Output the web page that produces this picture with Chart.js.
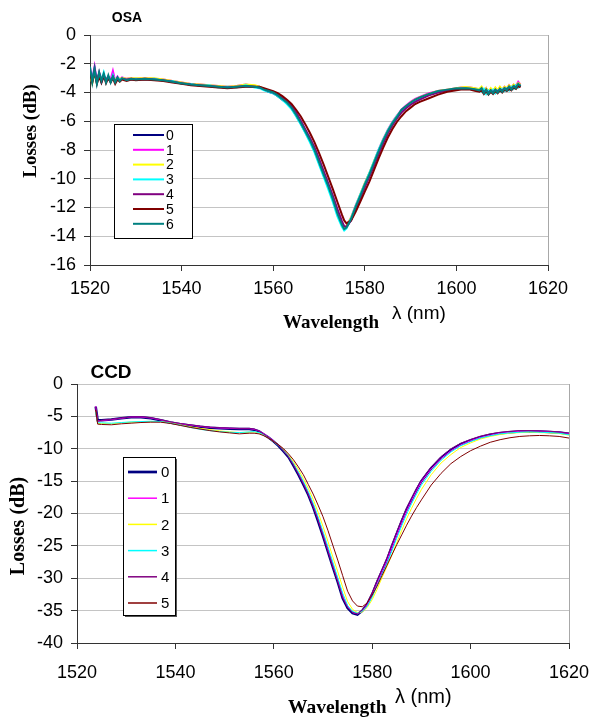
<!DOCTYPE html>
<html>
<head>
<meta charset="utf-8">
<script src="https://cdn.jsdelivr.net/npm/chart.js@4.4.1/dist/chart.umd.min.js"></script>
<style>
body { margin: 0; background: #fff; }
#wrap { position: relative; width: 590px; height: 720px; }
canvas { position: absolute; left: 0; }
</style>
</head>
<body>
<div id="wrap">
  <canvas id="osa-chart" width="590" height="360" style="top:0"></canvas>
  <canvas id="ccd-chart" width="590" height="360" style="top:360px"></canvas>
</div>
<script>
// ---- data ----
const seriesLabels = ['0', '1', '2', '3', '4', '5', '6'];
const seriesColors = ['#000080', '#ff00ff', '#ffff00', '#00ffff', '#800080', '#800000', '#008080'];

// OSA: wavelength (nm)
const osaX = [1520, 1520.5, 1521, 1521.5, 1522, 1522.5, 1523, 1523.5, 1524, 1524.5, 1525, 1525.5, 1526, 1526.5, 1527,
    1528, 1529, 1530,
    1532, 1534, 1536, 1538, 1540, 1542, 1544, 1546, 1548, 1550, 1552, 1554, 1556,
    1557, 1558, 1559, 1560, 1561, 1562, 1563, 1564, 1565, 1566, 1567, 1568, 1569, 1570, 1571, 1572, 1573, 1574, 1575,
    1575.5,
    1576, 1577, 1578, 1579, 1580, 1581, 1582, 1583, 1584, 1585, 1586, 1587, 1588, 1589, 1590, 1591, 1592,
    1594, 1596, 1598, 1600,
    1601, 1602, 1603, 1604,
    1605, 1605.5, 1606, 1606.5, 1607, 1607.5, 1608, 1608.5, 1609, 1609.5, 1610, 1610.5, 1611, 1611.5, 1612, 1612.5, 1613, 1613.5, 1614];

// OSA losses (dB), one array per run
const osa0 = [-2.6, -3.0, -2.5, -3.2, -2.7, -3.3, -2.9, -3.1, -3.0, -3.25, -2.95, -3.2, -3.05, -3.15, -3.05,
    -3.1, -3.1, -3.1,
    -3.1, -3.1, -3.15, -3.25, -3.35, -3.45, -3.5, -3.55, -3.6, -3.65, -3.6, -3.55, -3.6,
    -3.65, -3.8, -3.95, -4.05, -4.25, -4.5, -4.75, -5.1, -5.6, -6.15, -6.75, -7.35, -8.05, -8.9, -9.75, -10.55, -11.45, -12.4, -13.1,
    -13.4,
    -13.35, -12.85, -12.0, -11.25, -10.45, -9.75, -8.95, -8.15, -7.4, -6.75, -6.2, -5.75, -5.3, -5.0, -4.75, -4.55, -4.4,
    -4.15, -3.95, -3.85, -3.75,
    -3.72, -3.72, -3.75, -3.8,
    -3.9, -3.8, -4.0, -3.85, -4.05, -3.9, -4.0, -3.85, -3.95, -3.8, -3.9, -3.75, -3.8, -3.65, -3.75, -3.6, -3.65, -3.5, -3.6];
const osa1 = [-2.3, -3.1, -2.2, -3.2, -2.7, -3.0, -2.8, -3.1, -2.9, -3.1, -2.5, -3.2, -2.9, -3.1, -2.95,
    -3.05, -3.0, -3.05,
    -3.0, -3.05, -3.1, -3.2, -3.3, -3.4, -3.45, -3.5, -3.55, -3.6, -3.55, -3.45, -3.55,
    -3.6, -3.75, -3.85, -3.95, -4.15, -4.4, -4.65, -5.0, -5.5, -6.05, -6.65, -7.25, -7.95, -8.8, -9.65, -10.45, -11.35, -12.3, -13.1,
    -13.4,
    -13.3, -12.7, -11.85, -11.1, -10.3, -9.6, -8.8, -8.0, -7.25, -6.6, -6.05, -5.6, -5.2, -4.9, -4.65, -4.45, -4.3,
    -4.05, -3.9, -3.8, -3.7,
    -3.65, -3.65, -3.65, -3.7,
    -3.8, -3.65, -3.95, -3.7, -4.0, -3.75, -3.95, -3.7, -3.9, -3.65, -3.85, -3.6, -3.75, -3.5, -3.7, -3.45, -3.55, -3.25, -3.45];
const osa2 = [-2.8, -3.35, -2.6, -3.2, -2.8, -3.0, -2.9, -3.1, -3.0, -3.1, -2.9, -3.1, -3.0, -3.05, -3.0,
    -3.05, -3.0, -3.0,
    -3.0, -3.0, -3.1, -3.2, -3.3, -3.4, -3.45, -3.5, -3.55, -3.6, -3.55, -3.45, -3.5,
    -3.6, -3.75, -3.9, -4.0, -4.2, -4.45, -4.7, -5.05, -5.5, -6.1, -6.7, -7.3, -8.0, -8.85, -9.7, -10.5, -11.4, -12.35, -13.1,
    -13.4,
    -13.3, -12.7, -11.9, -11.1, -10.3, -9.6, -8.8, -8.05, -7.3, -6.65, -6.1, -5.65, -5.25, -4.95, -4.7, -4.5, -4.35,
    -4.1, -3.9, -3.8, -3.7,
    -3.65, -3.62, -3.65, -3.7,
    -3.75, -3.6, -3.9, -3.7, -3.95, -3.7, -3.9, -3.65, -3.85, -3.6, -3.8, -3.6, -3.7, -3.5, -3.65, -3.45, -3.55, -3.35, -3.45];
const osa3 = [-2.5, -3.1, -2.3, -3.3, -2.8, -3.1, -2.6, -3.2, -2.9, -3.2, -2.8, -3.2, -3.0, -3.1, -3.05,
    -3.1, -3.1, -3.05,
    -3.1, -3.05, -3.2, -3.2, -3.4, -3.4, -3.55, -3.5, -3.65, -3.6, -3.65, -3.5, -3.65,
    -3.7, -3.85, -3.95, -4.05, -4.25, -4.5, -4.8, -5.15, -5.65, -6.2, -6.8, -7.45, -8.15, -9.0, -9.85, -10.7, -11.6, -12.6, -13.35,
    -13.6,
    -13.45, -12.75, -11.9, -11.1, -10.35, -9.6, -8.8, -8.0, -7.3, -6.65, -6.1, -5.65, -5.25, -5.0, -4.75, -4.55, -4.4,
    -4.15, -3.95, -3.85, -3.75,
    -3.7, -3.72, -3.75, -3.8,
    -3.8, -3.95, -3.75, -4.1, -3.85, -4.0, -3.8, -4.05, -3.85, -3.95, -3.75, -3.9, -3.7, -3.85, -3.6, -3.75, -3.5, -3.65, -3.45];
const osa4 = [-2.5, -3.2, -2.3, -3.3, -2.6, -3.2, -2.8, -3.2, -2.9, -3.2, -2.9, -3.25, -3.0, -3.2, -3.05,
    -3.1, -3.05, -3.1,
    -3.05, -3.1, -3.15, -3.25, -3.35, -3.45, -3.5, -3.55, -3.6, -3.65, -3.6, -3.55, -3.6,
    -3.65, -3.75, -3.9, -4.0, -4.15, -4.4, -4.65, -4.95, -5.4, -5.95, -6.55, -7.15, -7.8, -8.6, -9.45, -10.3, -11.15, -12.1, -12.95,
    -13.3,
    -13.35, -12.9, -12.1, -11.35, -10.6, -9.85, -9.1, -8.3, -7.55, -6.85, -6.3, -5.8, -5.4, -5.1, -4.85, -4.65, -4.5,
    -4.2, -4.0, -3.85, -3.75,
    -3.72, -3.72, -3.75, -3.8,
    -3.9, -3.75, -4.0, -3.8, -4.05, -3.85, -4.0, -3.8, -3.95, -3.75, -3.9, -3.7, -3.8, -3.6, -3.75, -3.55, -3.65, -3.45, -3.55];
const osa5 = [-2.7, -3.3, -2.6, -3.4, -2.9, -3.3, -2.8, -3.35, -3.0, -3.3, -3.0, -3.4, -3.1, -3.25, -3.1,
    -3.2, -3.1, -3.15,
    -3.1, -3.15, -3.2, -3.3, -3.4, -3.5, -3.55, -3.6, -3.65, -3.7, -3.65, -3.6, -3.6,
    -3.6, -3.7, -3.8, -3.9, -4.05, -4.25, -4.5, -4.8, -5.2, -5.65, -6.2, -6.8, -7.45, -8.2, -9.0, -9.85, -10.7, -11.6, -12.5,
    -12.9,
    -13.1, -12.9, -12.3, -11.6, -10.9, -10.2, -9.4, -8.6, -7.85, -7.15, -6.55, -6.05, -5.65, -5.3, -5.05, -4.8, -4.65,
    -4.4, -4.15, -3.95, -3.85,
    -3.8, -3.78, -3.8, -3.88,
    -3.95, -3.85, -4.1, -3.9, -4.15, -3.95, -4.1, -3.9, -4.05, -3.85, -4.0, -3.8, -3.9, -3.75, -3.85, -3.65, -3.75, -3.55, -3.65];
const osa6 = [-2.2, -3.3, -2.4, -3.4, -2.6, -3.2, -2.7, -3.3, -2.8, -3.3, -2.9, -3.3, -2.95, -3.2, -3.0,
    -3.15, -3.05, -3.1,
    -3.05, -3.1, -3.15, -3.25, -3.35, -3.45, -3.5, -3.55, -3.6, -3.65, -3.6, -3.55, -3.6,
    -3.65, -3.8, -3.9, -4.0, -4.2, -4.45, -4.7, -5.05, -5.55, -6.1, -6.7, -7.3, -8.0, -8.85, -9.7, -10.5, -11.4, -12.4, -13.2,
    -13.5,
    -13.4, -12.8, -11.95, -11.2, -10.4, -9.7, -8.9, -8.1, -7.35, -6.7, -6.15, -5.7, -5.2, -4.95, -4.7, -4.5, -4.35,
    -4.1, -3.9, -3.8, -3.7,
    -3.72, -3.7, -3.72, -3.78,
    -3.85, -3.7, -4.05, -3.8, -4.1, -3.85, -4.05, -3.8, -4.0, -3.75, -3.95, -3.7, -3.85, -3.6, -3.8, -3.55, -3.7, -3.4, -3.55];

// CCD: wavelength (nm)
const ccdX = [1523.8, 1524.2, 1525, 1527, 1529, 1531, 1533, 1535, 1537, 1539, 1541, 1543, 1545, 1547, 1549, 1551, 1553, 1555,
    1556, 1557, 1558, 1559, 1560, 1561, 1562, 1563, 1564, 1565, 1566, 1567, 1568, 1569, 1570, 1571, 1572, 1573,
    1574, 1575, 1576, 1577, 1578, 1579, 1580, 1581, 1582, 1583, 1584, 1585, 1586, 1587, 1588, 1589, 1590,
    1592, 1594, 1596, 1598, 1600, 1602, 1604, 1606, 1608, 1610, 1612, 1614, 1616, 1618, 1620];

// CCD losses (dB), one array per run
const ccd0 = [-3.5, -5.6, -5.6, -5.5, -5.3, -5.15, -5.15, -5.3, -5.6, -5.95, -6.2, -6.4, -6.6, -6.75, -6.85, -6.9, -6.95, -6.95,
    -7.05, -7.3, -7.8, -8.3, -8.9, -9.6, -10.4, -11.3, -12.6, -14.0, -15.5, -17.1, -19.0, -21.2, -23.5, -25.9, -28.3, -30.6,
    -33.1, -34.6, -35.4, -35.6, -35.0, -34.0, -32.5, -30.6, -28.9, -27.2, -25.1, -23.1, -21.2, -19.4, -17.9, -16.4, -15.0,
    -13.0, -11.4, -10.2, -9.3, -8.7, -8.2, -7.85, -7.6, -7.45, -7.35, -7.3, -7.35, -7.4, -7.5, -7.7];
const ccd1 = [-3.4, -5.7, -5.65, -5.5, -5.3, -5.1, -5.1, -5.25, -5.55, -5.9, -6.15, -6.35, -6.55, -6.7, -6.8, -6.85, -6.9, -6.9,
    -7.0, -7.25, -7.7, -8.2, -8.8, -9.5, -10.3, -11.2, -12.4, -13.8, -15.3, -16.9, -18.8, -20.9, -23.2, -25.6, -28.0, -30.3,
    -32.8, -34.4, -35.3, -35.5, -35.1, -34.1, -32.6, -30.8, -29.0, -27.3, -25.3, -23.3, -21.4, -19.6, -18.0, -16.5, -15.1,
    -13.1, -11.5, -10.3, -9.4, -8.75, -8.25, -7.9, -7.6, -7.45, -7.3, -7.25, -7.3, -7.35, -7.45, -7.65];
const ccd2 = [-4.2, -6.1, -6.1, -6.15, -6.0, -5.9, -5.85, -5.8, -5.8, -6.0, -6.3, -6.6, -6.85, -7.05, -7.25, -7.4, -7.5, -7.45,
    -7.4, -7.55, -7.9, -8.35, -8.9, -9.5, -10.2, -11.0, -12.0, -13.2, -14.6, -16.1, -17.8, -19.8, -22.0, -24.3, -26.7, -29.0,
    -31.4, -33.6, -34.8, -35.3, -35.2, -34.5, -33.3, -31.7, -29.9, -28.2, -26.4, -24.5, -22.6, -20.8, -19.2, -17.7, -16.3,
    -14.0, -12.2, -10.9, -9.8, -9.1, -8.5, -8.1, -7.8, -7.6, -7.5, -7.45, -7.5, -7.55, -7.65, -7.9];
const ccd3 = [-4.3, -6.0, -6.0, -6.05, -5.95, -5.85, -5.8, -5.75, -5.8, -6.05, -6.35, -6.7, -7.0, -7.2, -7.35, -7.45, -7.5, -7.4,
    -7.35, -7.5, -7.85, -8.3, -8.9, -9.55, -10.3, -11.15, -12.3, -13.6, -15.0, -16.6, -18.4, -20.5, -22.8, -25.1, -27.5, -29.9,
    -32.3, -34.2, -35.1, -35.4, -35.1, -34.3, -32.9, -31.1, -29.4, -27.7, -25.8, -23.8, -21.9, -20.1, -18.5, -17.0, -15.6,
    -13.5, -11.8, -10.5, -9.55, -8.9, -8.35, -8.0, -7.7, -7.55, -7.45, -7.4, -7.45, -7.5, -7.6, -7.85];
const ccd4 = [-3.5, -5.75, -5.6, -5.45, -5.25, -5.1, -5.05, -5.2, -5.5, -5.85, -6.1, -6.3, -6.5, -6.65, -6.75, -6.8, -6.85, -6.85,
    -6.95, -7.25, -7.75, -8.25, -8.85, -9.55, -10.35, -11.25, -12.5, -13.9, -15.4, -17.0, -18.9, -21.0, -23.4, -25.8, -28.2, -30.5,
    -33.0, -34.5, -35.3, -35.5, -34.9, -33.8, -32.2, -30.3, -28.6, -26.8, -24.8, -22.8, -20.9, -19.1, -17.6, -16.1, -14.8,
    -12.8, -11.2, -10.0, -9.15, -8.55, -8.05, -7.7, -7.45, -7.3, -7.2, -7.2, -7.25, -7.3, -7.4, -7.6];
const ccd5 = [-4.0, -6.2, -6.25, -6.3, -6.15, -6.05, -5.95, -5.9, -5.9, -6.1, -6.4, -6.7, -6.95, -7.2, -7.4, -7.55, -7.7, -7.6,
    -7.6, -7.7, -8.0, -8.4, -8.9, -9.4, -10.0, -10.8, -11.7, -12.8, -14.0, -15.5, -17.0, -18.7, -20.5, -22.6, -24.9, -27.2,
    -29.6, -32.0, -33.5, -34.3, -34.4, -33.8, -32.6, -31.2, -29.6, -28.0, -26.4, -24.8, -23.3, -21.8, -20.4, -19.1, -17.9,
    -15.6, -13.8, -12.3, -11.2, -10.3, -9.6, -9.0, -8.6, -8.3, -8.1, -8.0, -7.95, -8.0, -8.1, -8.35];

const wlTicks = [1520, 1540, 1560, 1580, 1600, 1620];

const sans = '"Liberation Sans", Arial, sans-serif';
const serif = '"Liberation Serif", "Times New Roman", serif';

function make_sets(xs, series, widths) {
    return series.map((ys, i) => ({
        label: seriesLabels[i],
        data: xs.map((x, j) => ({ x: x, y: ys[j] })),
        borderColor: seriesColors[i],
        borderWidth: widths[i],
        pointRadius: 0,
        tension: 0,
        fill: false,
        order: series.length - i, // later runs drawn on top
    }));
}

// titles, axis names, legend box, right frame line
function deco_plugin(cfg) {
    return {
        id: 'deco',
        afterDraw(chart) {
            let ctx = chart.ctx;
            let a = chart.chartArea;
            ctx.save();
            ctx.strokeStyle = '#a8a8a8';
            ctx.lineWidth = 1;
            ctx.beginPath();
            ctx.moveTo(Math.round(a.right) + 0.5, a.top);
            ctx.lineTo(Math.round(a.right) + 0.5, a.bottom);
            ctx.stroke();

            ctx.fillStyle = '#000';
            ctx.textAlign = 'center';
            ctx.textBaseline = 'middle';
            ctx.font = 'bold ' + cfg.titleSize + 'px ' + sans;
            ctx.fillText(cfg.title, cfg.titleX, cfg.titleY);

            ctx.save();
            ctx.translate(cfg.yTitleX, cfg.yTitleY);
            ctx.rotate(-Math.PI / 2);
            ctx.font = 'bold ' + cfg.yTitleSize + 'px ' + serif;
            ctx.fillText('Losses (dB)', 0, 0);
            ctx.restore();

            ctx.textAlign = 'left';
            ctx.textBaseline = 'alphabetic';
            ctx.font = 'bold ' + cfg.xTitleSize + 'px ' + serif;
            ctx.fillText('Wavelength', cfg.xTitleX, cfg.xTitleY);
            ctx.font = cfg.unitSize + 'px ' + sans;
            ctx.fillText('\u03bb (nm)', cfg.unitX, cfg.unitY);

            // legend
            let L = cfg.legend;
            if (L.shadow) {
                ctx.fillStyle = '#555';
                ctx.fillRect(L.x + 2, L.y + 2, L.w, L.h);
            }
            ctx.fillStyle = '#fff';
            ctx.fillRect(L.x, L.y, L.w, L.h);
            ctx.strokeStyle = '#000';
            ctx.strokeRect(L.x + 0.5, L.y + 0.5, L.w, L.h);
            ctx.font = L.size + 'px ' + sans;
            ctx.textBaseline = 'middle';
            chart.data.datasets.forEach((ds, i) => {
                let y = L.y + L.first + i * L.step;
                ctx.strokeStyle = ds.borderColor;
                ctx.lineWidth = L.widths[i];
                ctx.beginPath();
                ctx.moveTo(L.lineX1, y);
                ctx.lineTo(L.lineX2, y);
                ctx.stroke();
                ctx.fillStyle = '#000';
                ctx.fillText(ds.label, L.textX, y + 1);
            });
            ctx.restore();
        }
    };
}

function make_options(yMin, yMax, yStep, yWidth, xHeight, xPad, padTop, padRight) {
    return {
        responsive: false,
        animation: false,
        events: [],
        layout: { padding: { top: padTop, right: padRight, left: 0, bottom: 0 } },
        plugins: { legend: { display: false }, tooltip: { enabled: false }, title: { display: false } },
        scales: {
            x: {
                type: 'linear',
                min: 1520,
                max: 1620,
                afterBuildTicks: (s) => { s.ticks = wlTicks.map(v => ({ value: v })); },
                afterFit: (s) => { s.height = xHeight; s.paddingLeft = 0; s.paddingRight = 0; },
                ticks: { font: { family: sans, size: 18 }, color: '#000', padding: xPad, maxRotation: 0, callback: (v) => String(v) },
                grid: { drawOnChartArea: false, tickLength: 6, tickColor: '#333' },
                border: { color: '#333', width: 1 },
            },
            y: {
                min: yMin,
                max: yMax,
                ticks: { stepSize: yStep, font: { family: sans, size: 18 }, color: '#000', padding: 8, callback: (v) => String(v) },
                afterFit: (s) => { s.width = yWidth; s.paddingTop = 0; s.paddingBottom = 0; },
                grid: { color: '#c4c4c4', tickLength: 6, tickColor: '#333' },
                border: { color: '#333', width: 1 },
            },
        },
    };
}

new Chart(document.getElementById('osa-chart'), {
    type: 'line',
    data: { datasets: make_sets(osaX, [osa0, osa1, osa2, osa3, osa4, osa5, osa6], [2, 2, 2, 2, 2, 2, 2]) },
    options: make_options(-16, 0, 2, 90, 95, 7, 35, 42),
    plugins: [deco_plugin({
        title: 'OSA', titleSize: 14, titleX: 127, titleY: 18,
        yTitleX: 31, yTitleY: 131, yTitleSize: 19,
        xTitleX: 283, xTitleY: 328, xTitleSize: 19,
        unitX: 392, unitY: 319, unitSize: 19,
        legend: { x: 114, y: 124, w: 78, h: 114, first: 11, step: 14.8, lineX1: 133, lineX2: 164, textX: 166, size: 14,
            widths: [2, 2, 2, 2, 2, 2, 2], shadow: false },
    })],
});

new Chart(document.getElementById('ccd-chart'), {
    type: 'line',
    data: { datasets: make_sets(ccdX, [ccd0, ccd1, ccd2, ccd3, ccd4, ccd5], [2.5, 1, 1, 1, 1, 1]) },
    options: make_options(-40, 0, 5, 77, 77, 13, 24, 21),
    plugins: [deco_plugin({
        title: 'CCD', titleSize: 19, titleX: 111, titleY: 13,
        yTitleX: 19, yTitleY: 166, yTitleSize: 20,
        xTitleX: 288, xTitleY: 353, xTitleSize: 19.5,
        unitX: 395, unitY: 343, unitSize: 20,
        legend: { x: 123, y: 97, w: 52, h: 158, first: 15, step: 26.2, lineX1: 128, lineX2: 157, textX: 161, size: 15,
            widths: [2.7, 1.5, 1.5, 1.5, 1.5, 1.5], shadow: true },
    })],
});
</script>
</body>
</html>
